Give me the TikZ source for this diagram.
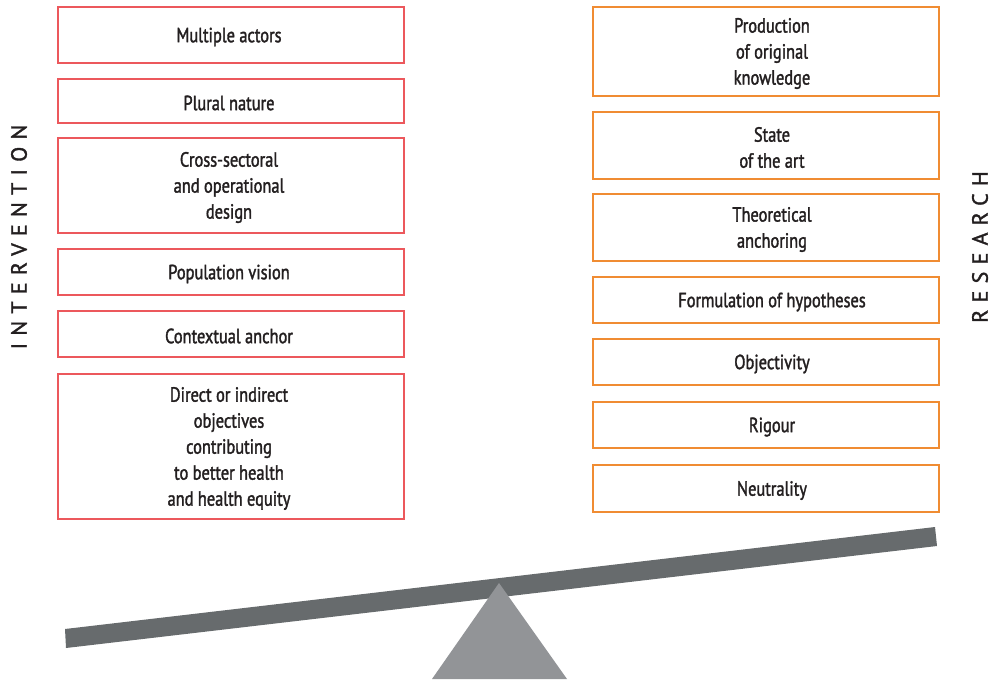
\documentclass[tikz,border=0pt]{standalone}
\usepackage{fontspec}
\setmainfont{PT Sans}[FakeStretch=0.8,FakeBold=1.6]
\newfontfamily\labelfont{PT Sans}[LetterSpace=33,FakeBold=1.6]
\definecolor{redb}{RGB}{236,88,92}
\definecolor{orangeb}{RGB}{240,140,50}
\definecolor{beamc}{RGB}{103,107,109}
\definecolor{triac}{RGB}{146,148,151}
\definecolor{txt}{RGB}{35,31,32}
\begin{document}
\begin{tikzpicture}[x=1pt,y=-1pt,
  boxl/.style={draw=redb,line width=1.2pt,fill=white},
  boxr/.style={draw=orangeb,line width=1.2pt,fill=white},
  lbl/.style={text=txt,font=\fontsize{20.5}{26}\selectfont,align=center,inner sep=0pt},
  side/.style={text=txt,font=\labelfont\fontsize{22}{24}\selectfont,rotate=90,inner sep=0pt}]
\useasboundingbox (0,0) rectangle (992,680);
% left boxes
\foreach \n/\a/\b/\t in {l1/7/63/{Multiple actors},l2/79/123/{Plural nature},l3/138/233/{Cross-sectoral\\and operational\\design},l4/249/295/{Population vision},l5/311/357/{Contextual anchor},l6/374/519/{Direct or indirect\\objectives\\contributing\\to better health\\and health equity}}{
  \draw[boxl] (58,\a) rectangle (404,\b);
  \node[lbl] (\n) at (229,{(\a+\b)/2+2}) {\t};
}
% right boxes
\foreach \n/\a/\b/\t in {r1/7/96/{Production\\of original\\knowledge},r2/112/179/{State\\of the art},r3/194/261/{Theoretical\\anchoring},r4/277/323/{Formulation of hypotheses},r5/339/385/{Objectivity},r6/402/448/{Rigour},r7/465/512/{Neutrality}}{
  \draw[boxr] (593,\a) rectangle (939,\b);
  \node[lbl] (\n) at (772,{(\a+\b)/2+2}) {\t};
}
\node[side] (intv) at (19,237) {INTERVENTION};
\node[side] (res) at (980,247) {RESEARCH};
% seesaw
\coordinate (bl1) at (65,629);
\coordinate (bl2) at (66,648);
\coordinate (br1) at (935,527);
\coordinate (br2) at (937,546);
\fill[beamc] (bl1) -- (br1) -- (br2) -- (bl2) -- cycle;
\coordinate (apex) at (499,583);
\coordinate (tl) at (432,679);
\coordinate (tr) at (567,679);
\fill[triac] (apex) -- (tr) -- (tl) -- cycle;
\end{tikzpicture}
\end{document}
